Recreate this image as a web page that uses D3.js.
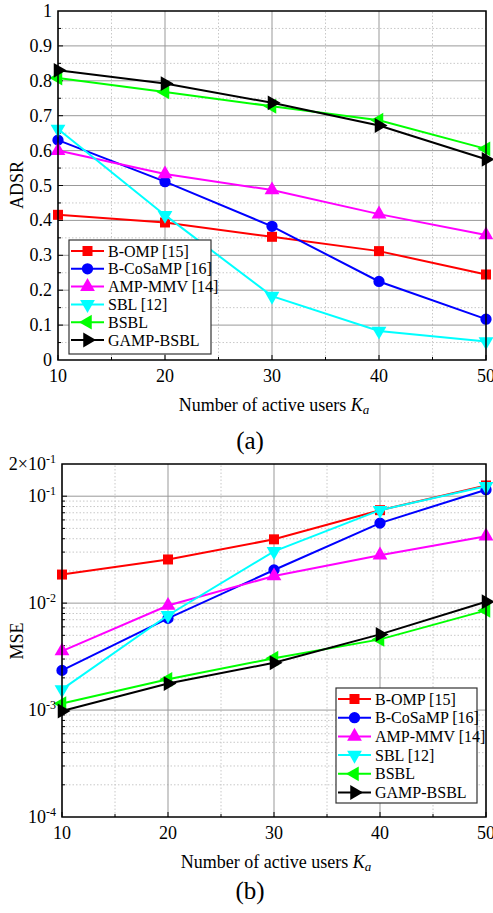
<!DOCTYPE html>
<meta charset="utf-8">
<script src="https://d3js.org/d3.v7.min.js"></script>
<style>
  body { margin: 0; background: #fff; }
  text { font-family: "Liberation Serif", "Times New Roman", serif; fill: #000; }
</style>
<div id="my_dataviz"></div>
<script>

// data
var users = [10, 20, 30, 40, 50];
var methods = ["B-OMP [15]", "B-CoSaMP [16]", "AMP-MMV [14]", "SBL [12]", "BSBL", "GAMP-BSBL"];

var adsr_bomp   = [0.416, 0.394, 0.353, 0.312, 0.245];
var adsr_bcosamp= [0.630, 0.511, 0.383, 0.225, 0.117];
var adsr_ampmmv = [0.600, 0.533, 0.487, 0.418, 0.358];
var adsr_sbl    = [0.662, 0.415, 0.183, 0.083, 0.053];
var adsr_bsbl   = [0.808, 0.768, 0.727, 0.687, 0.605];
var adsr_gamp   = [0.830, 0.792, 0.737, 0.672, 0.575];

var mse_bomp    = [0.0185, 0.0256, 0.0395, 0.074, 0.126];
var mse_bcosamp = [0.00235, 0.0072, 0.0204, 0.056, 0.115];
var mse_ampmmv  = [0.00356, 0.0095, 0.0179, 0.0281, 0.0423];
var mse_sbl     = [0.00156, 0.0077, 0.0305, 0.074, 0.124];
var mse_bsbl    = [0.00115, 0.00194, 0.00305, 0.00458, 0.00855];
var mse_gamp    = [0.00098, 0.00177, 0.00277, 0.0051, 0.0103];

var adsrTicks = [0, 0.1, 0.2, 0.3, 0.4, 0.5, 0.6, 0.7, 0.8, 0.9, 1];

var colors  = ["#ff0000", "#0000ff", "#ff00ff", "#00ffff", "#00ff00", "#000000"];
var shapes  = ["square", "circle", "up", "down", "left", "right"];

var W = 493, H = 913;
var svg = d3.select("#my_dataviz").append("svg")
    .attr("width", W).attr("height", H);

function marker(g, shape, color) {
  var sym, rot = 0, size = 100;
  if (shape == "square") { sym = d3.symbolSquare; size = 100; }
  else if (shape == "circle") { sym = d3.symbolCircle; size = 100; }
  else {
    sym = d3.symbolTriangle; size = 95;
    rot = {up: 0, down: 180, left: -90, right: 90}[shape];
  }
  g.append("path")
    .attr("d", d3.symbol().type(sym).size(size)())
    .attr("transform", "rotate(" + rot + ")")
    .attr("fill", color);
}

function drawPanel(p) {
  var x = p.x, y = p.y;
  var g = svg.append("g");
  var x0 = x.range()[0], x1 = x.range()[1], y0 = y.range()[0], y1 = y.range()[1];

  // minor grid
  g.selectAll(".minx").data(p.minorX).enter().append("line")
    .attr("x1", d => x(d)).attr("x2", d => x(d)).attr("y1", y0).attr("y2", y1)
    .attr("stroke", "#c8c8c8").attr("stroke-width", 1).attr("stroke-dasharray", "1.5,2");
  g.selectAll(".miny").data(p.minorY).enter().append("line")
    .attr("x1", x0).attr("x2", x1).attr("y1", d => y(d)).attr("y2", d => y(d))
    .attr("stroke", "#c8c8c8").attr("stroke-width", 1).attr("stroke-dasharray", "1.5,2");
  // major grid
  g.selectAll(".majx").data(users).enter().append("line")
    .attr("x1", d => x(d)).attr("x2", d => x(d)).attr("y1", y0).attr("y2", y1)
    .attr("stroke", "#999").attr("stroke-width", 1);
  g.selectAll(".majy").data(p.majorY).enter().append("line")
    .attr("x1", x0).attr("x2", x1).attr("y1", d => y(d)).attr("y2", d => y(d))
    .attr("stroke", "#999").attr("stroke-width", 1);

  // inward ticks
  g.selectAll(".tky").data(p.majorY).enter().append("line")
    .attr("x1", x0).attr("x2", x0 + 5).attr("y1", d => y(d)).attr("y2", d => y(d))
    .attr("stroke", "#000");
  g.selectAll(".tkym").data(p.minorY).enter().append("line")
    .attr("x1", x0).attr("x2", x0 + 3).attr("y1", d => y(d)).attr("y2", d => y(d))
    .attr("stroke", "#000");
  g.selectAll(".tkx").data(users).enter().append("line")
    .attr("x1", d => x(d)).attr("x2", d => x(d)).attr("y1", y0).attr("y2", y0 - 5)
    .attr("stroke", "#000");
  g.selectAll(".tkxm").data(p.minorX).enter().append("line")
    .attr("x1", d => x(d)).attr("x2", d => x(d)).attr("y1", y0).attr("y2", y0 - 3)
    .attr("stroke", "#000");

  // lines + markers
  var line = d3.line().x((d, i) => x(users[i])).y(d => y(d));
  p.series.forEach(function(s, k) {
    g.append("path").datum(s).attr("d", line)
      .attr("fill", "none").attr("stroke", colors[k]).attr("stroke-width", 2);
    s.forEach(function(v, i) {
      var m = g.append("g").attr("transform", "translate(" + x(users[i]) + "," + y(v) + ")");
      marker(m, shapes[k], colors[k]);
    });
  });

  // frame
  g.append("rect").attr("x", x0).attr("y", y1).attr("width", x1 - x0).attr("height", y0 - y1)
    .attr("fill", "none").attr("stroke", "#000").attr("stroke-width", 1.5);

  // x tick labels
  g.selectAll(".xl").data(users).enter().append("text")
    .attr("x", d => x(d)).attr("y", y0 + 22)
    .attr("text-anchor", "middle").style("font-size", "18px").text(d => d);

  // y tick labels
  p.yLabels(g);

  // x title
  var t = g.append("text").attr("x", (x0 + x1) / 2 + 2).attr("y", y0 + 51)
    .attr("text-anchor", "middle").style("font-size", "18px");
  t.append("tspan").text("Number of active users ");
  t.append("tspan").style("font-style", "italic").text("K");
  t.append("tspan").style("font-style", "italic").style("font-size", "13px").attr("dy", 3).text("a");

  // y title
  g.append("text").attr("transform", "translate(23," + p.yTitleY + ") rotate(-90)")
    .attr("text-anchor", "middle").style("font-size", "18px").text(p.yTitle);

  // panel caption
  g.append("text").attr("x", 250).attr("y", p.capY).attr("text-anchor", "middle")
    .style("font-size", "25px").text(p.caption);

  // legend
  var L = p.legend;
  g.append("rect").attr("x", L.x).attr("y", L.y).attr("width", L.w).attr("height", L.h)
    .attr("fill", "#fff").attr("stroke", "#333").attr("stroke-width", 1.2);
  methods.forEach(function(name, k) {
    var yy = L.y + L.top + k * L.step;
    g.append("line").attr("x1", L.x + 2).attr("x2", L.x + 35).attr("y1", yy).attr("y2", yy)
      .attr("stroke", colors[k]).attr("stroke-width", 2);
    var m = g.append("g").attr("transform", "translate(" + (L.x + 18.5) + "," + yy + ")");
    marker(m, shapes[k], colors[k]);
    g.append("text").attr("x", L.x + 39).attr("y", yy + 5.5).style("font-size", "16px").text(name);
  });
}

// (a) ADSR
var xa = d3.scaleLinear().domain([10, 50]).range([58, 486]);
var ya = d3.scaleLinear().domain([0, 1]).range([360, 11]);
drawPanel({
  x: xa, y: ya,
  minorX: [15, 25, 35, 45],
  majorY: adsrTicks.slice(1, -1),
  minorY: d3.range(0.05, 1, 0.1),
  series: [adsr_bomp, adsr_bcosamp, adsr_ampmmv, adsr_sbl, adsr_bsbl, adsr_gamp],
  yLabels: function(g) {
    g.selectAll(".yl").data(adsrTicks).enter().append("text")
      .attr("x", 52).attr("y", d => ya(d) + 6)
      .attr("text-anchor", "end").style("font-size", "18px")
      .text(d => d3.format("")(+d.toFixed(1)));
  },
  yTitle: "ADSR", yTitleY: 185,
  caption: "(a)", capY: 449,
  legend: {x: 69, y: 240, w: 142, h: 114, top: 11, step: 17.8}
});

// (b) MSE
var xb = d3.scaleLinear().domain([10, 50]).range([62, 486]);
var yb = d3.scaleLog().domain([1e-4, 2e-1]).range([817, 464]);
var minorB = [];
[1e-4, 1e-3, 1e-2, 1e-1].forEach(function(b) {
  for (var k = 2; k <= 9; k++) if (k * b < 0.2) minorB.push(k * b);
});
drawPanel({
  x: xb, y: yb,
  minorX: [15, 25, 35, 45],
  majorY: [1e-3, 1e-2, 1e-1],
  minorY: minorB,
  series: [mse_bomp, mse_bcosamp, mse_ampmmv, mse_sbl, mse_bsbl, mse_gamp],
  yLabels: function(g) {
    [[1e-4, "", -4], [1e-3, "", -3], [1e-2, "", -2], [1e-1, "", -1], [2e-1, "2\u00d7", -1]].forEach(function(d) {
      var t = g.append("text").attr("x", 56).attr("y", yb(d[0]) + 6)
        .attr("text-anchor", "end").style("font-size", "18px");
      t.append("tspan").text(d[1] + "10");
      t.append("tspan").attr("dy", -7).style("font-size", "12px").text(d[2]);
    });
  },
  yTitle: "MSE", yTitleY: 641,
  caption: "(b)", capY: 899,
  legend: {x: 336, y: 688, w: 141, h: 115, top: 11, step: 18.7}
});

</script>
